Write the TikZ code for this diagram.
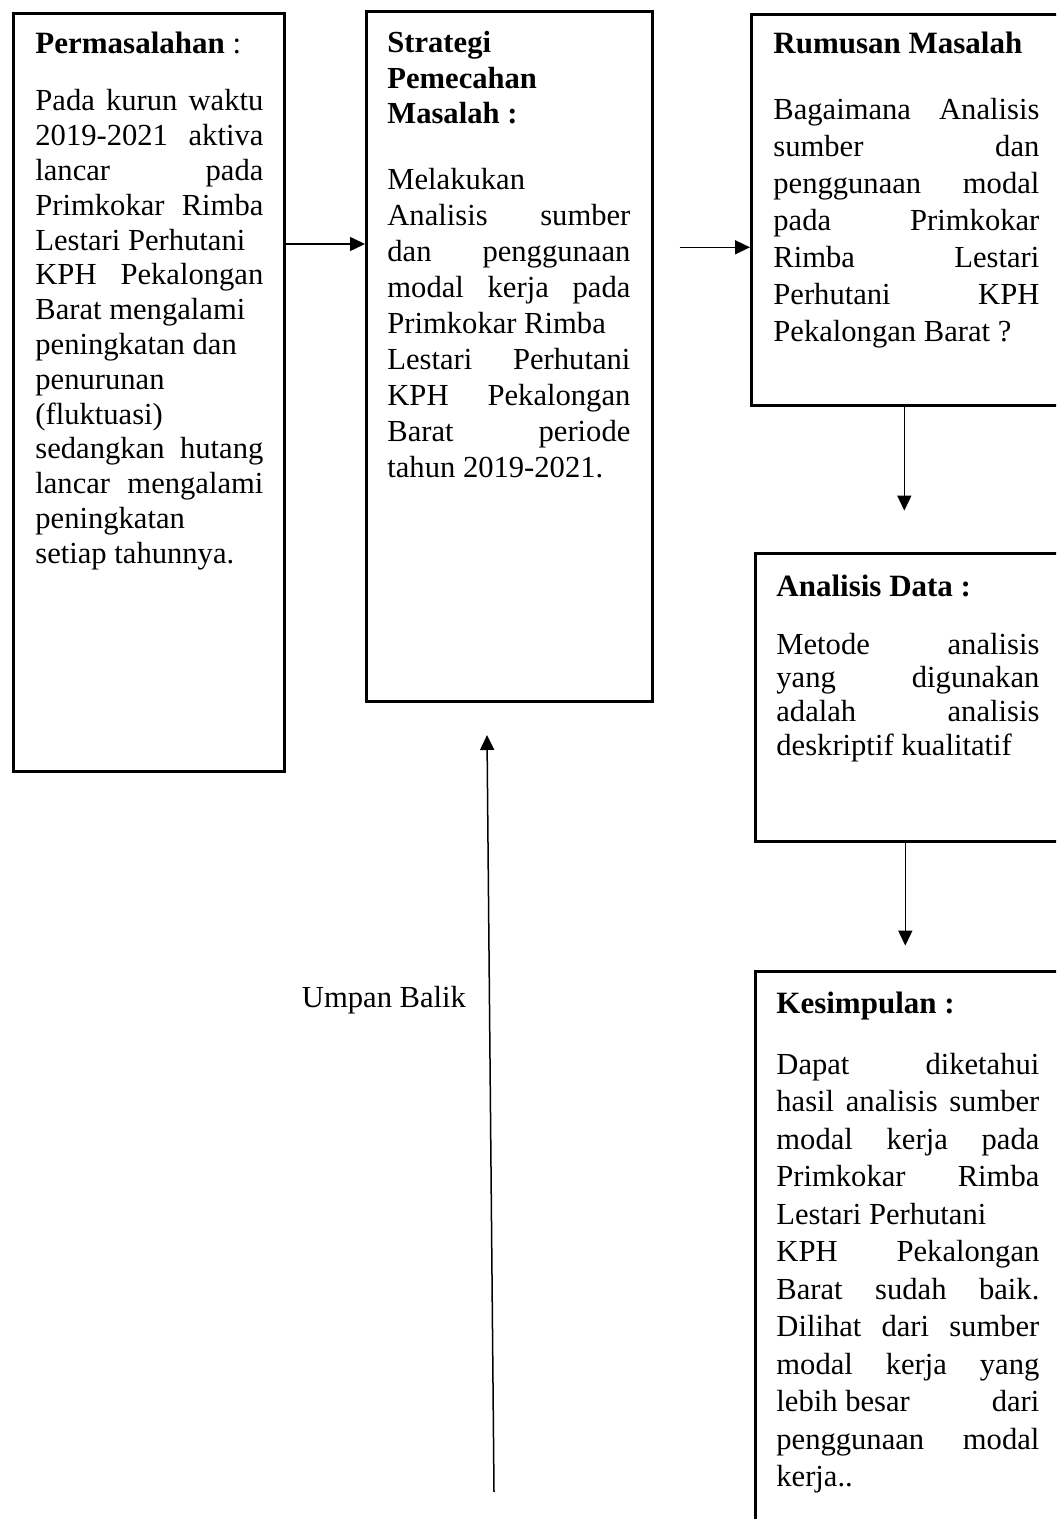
\documentclass[tikz,border=0pt]{standalone}
\usepackage{fontspec}
\setmainfont{Liberation Serif}
\usetikzlibrary{arrows.meta,calc}

% one justified line, spread to the full width
\newcommand{\rata}[1]{\makebox[\linewidth][s]{#1}}
% body text of a box: width, line spacing, lines
\newcommand{\teksisi}[3]{\parbox[t]{#1}{\fontsize{15.3}{#2}\selectfont #3}}

\begin{document}
\begin{tikzpicture}[x=0.5pt, y=-0.5pt,
    kotak/.style={draw, line width=1.3pt, anchor=north west, inner sep=0pt},
    judul/.style={anchor=base west, inner sep=0pt, font=\fontsize{15.5}{18}\selectfont\bfseries},
    isi/.style={anchor=base west, inner sep=0pt},
    panah/.style={-{Triangle[length=7.5pt,width=7pt]}, line width=0.75pt}]

  \useasboundingbox (0,0) rectangle (1056,1519);
  \clip (0,0) rectangle (1056,1519);

  % Boxes (the right column runs past the page edge)
  \node [kotak, minimum width=135.5pt, minimum height=379pt] (b1) at (12,12) {};
  \node [kotak, minimum width=143pt, minimum height=345pt] (b2) at (365,10) {};
  \node [kotak, minimum width=155pt, minimum height=195.5pt] (b3) at (750,13) {};
  \node [kotak, minimum width=153pt, minimum height=144pt] (b4) at (754,552) {};
  \node [kotak, minimum width=153pt, minimum height=300pt] (b5) at (754,970) {};

  % Permasalahan
  \node [judul] (h1) at (35,54) {Permasalahan \textmd{:}};
  \node [isi] (t1) at (35,111) {\teksisi{114pt}{17.4pt}{%
    \rata{Pada kurun waktu}\\
    \rata{2019-2021 aktiva}\\
    \rata{lancar pada}\\
    \rata{Primkokar Rimba}\\
    Lestari Perhutani\\
    \rata{KPH Pekalongan}\\
    Barat mengalami\\
    peningkatan dan\\
    penurunan\\
    (fluktuasi)\\
    \rata{sedangkan hutang}\\
    \rata{lancar mengalami}\\
    peningkatan\\
    setiap tahunnya.}};

  % Strategi Pemecahan Masalah
  \node [isi] (h2) at (387,53) {\teksisi{121.5pt}{17.75pt}{\bfseries
    Strategi\\
    Pemecahan\\
    Masalah :}};
  \node [isi] (t2) at (387,190) {\teksisi{121.5pt}{18pt}{%
    Melakukan\\
    \rata{Analisis sumber}\\
    \rata{dan penggunaan}\\
    \rata{modal kerja pada}\\
    Primkokar Rimba\\
    \rata{Lestari Perhutani}\\
    \rata{KPH Pekalongan}\\
    \rata{Barat periode}\\
    tahun 2019-2021.}};

  % Rumusan Masalah
  \node [judul] (h3) at (773,54) {Rumusan Masalah};
  \node [isi] (t3) at (773,120) {\teksisi{133pt}{18.5pt}{%
    \rata{Bagaimana Analisis}\\
    \rata{sumber dan}\\
    \rata{penggunaan modal}\\
    \rata{pada Primkokar}\\
    \rata{Rimba Lestari}\\
    \rata{Perhutani KPH}\\
    Pekalongan Barat ?}};

  % Analisis Data
  \node [judul] (h4) at (776,596) {Analisis Data :};
  \node [isi] (t4) at (776,654) {\teksisi{131.5pt}{16.85pt}{%
    \rata{Metode analisis}\\
    \rata{yang digunakan}\\
    \rata{adalah analisis}\\
    deskriptif kualitatif}};

  % Kesimpulan
  \node [judul] (h5) at (776,1013) {Kesimpulan :};
  \node [isi] (t5) at (776,1074) {\teksisi{131.5pt}{18.75pt}{%
    \rata{Dapat diketahui}\\
    \rata{hasil analisis sumber}\\
    \rata{modal kerja pada}\\
    \rata{Primkokar Rimba}\\
    Lestari Perhutani\\
    \rata{KPH Pekalongan}\\
    \rata{Barat sudah baik.}\\
    \rata{Dilihat dari sumber}\\
    \rata{modal kerja yang}\\
    \rata{lebih besar\hfill dari}\\
    \rata{penggunaan modal}\\
    kerja..}};

  % Arrows between the boxes
  \coordinate (p1) at (b1.east |- 0,244);
  \coordinate (p2) at ([yshift=-18.75pt]b3.west);
  \draw [panah] (p1) -- (p1 -| b2.west);
  \draw [panah] ($(b2.east |- p2)+(13pt,0)$) -- (p2);
  \draw [panah] ([xshift=-1pt]b3.south) -- ++(0,-52pt);
  \draw [panah] ([xshift=-1.5pt]b4.south) -- ++(0,-51.5pt);

  % Feedback arrow
  \coordinate (ub0) at (494,1492);
  \coordinate (ub1) at (487,735);
  \draw [panah] (ub0) -- (ub1);
  \node [font=\fontsize{15.3}{18}\selectfont] (ub) at (384,1000) {Umpan Balik};

\end{tikzpicture}
\end{document}
